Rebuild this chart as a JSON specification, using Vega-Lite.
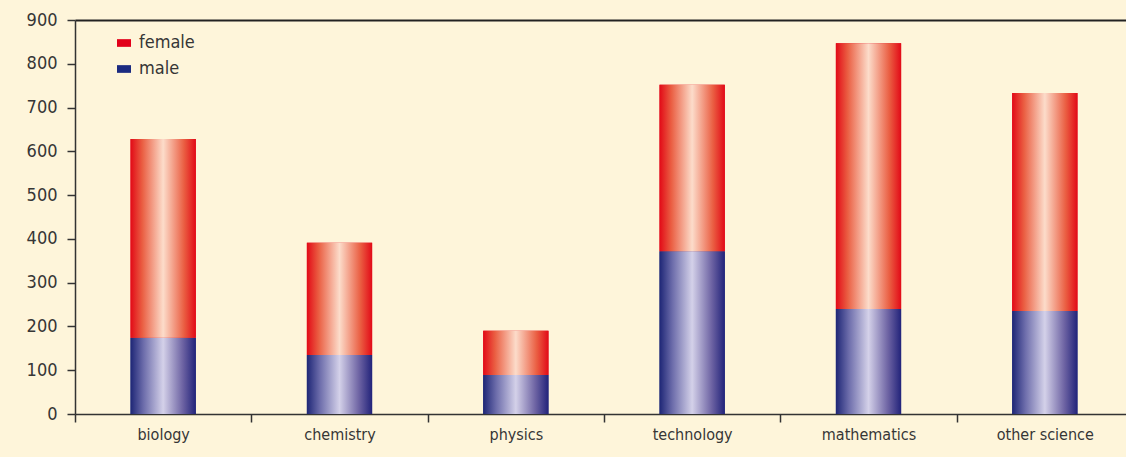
{
  "$schema": "https://vega.github.io/schema/vega-lite/v6.json",
  "autosize": "none",
  "width": 1058,
  "height": 394,
  "padding": {"left": 75, "top": 20, "right": 0, "bottom": 43},
  "background": "#fef5da",
  "config": {
    "view": {"stroke": null},
    "font": "DejaVu Sans Condensed, sans-serif",
    "axis": {"domainColor": "#333333", "domainWidth": 1.5, "tickColor": "#333333", "tickWidth": 1.5, "labelColor": "#363636", "labelFont": "DejaVu Sans Condensed, sans-serif"}
  },
  "data": {
    "values": [
      {"field": "biology", "sex": "male", "count": 174},
      {"field": "biology", "sex": "female", "count": 454},
      {"field": "chemistry", "sex": "male", "count": 135},
      {"field": "chemistry", "sex": "female", "count": 256},
      {"field": "physics", "sex": "male", "count": 89},
      {"field": "physics", "sex": "female", "count": 101},
      {"field": "technology", "sex": "male", "count": 372},
      {"field": "technology", "sex": "female", "count": 380},
      {"field": "mathematics", "sex": "male", "count": 240},
      {"field": "mathematics", "sex": "female", "count": 607},
      {"field": "other science", "sex": "male", "count": 235},
      {"field": "other science", "sex": "female", "count": 498}
    ]
  },
  "encoding": {
    "x": {
      "field": "field", "type": "nominal", "sort": null,
      "scale": {"paddingInner": 0, "paddingOuter": 0},
      "axis": {"title": null, "labelAngle": 0, "tickBand": "extent", "tickSize": 8, "labelFontSize": 16, "labelPadding": 4}
    },
    "y": {
      "field": "count", "type": "quantitative", "stack": "zero",
      "scale": {"domain": [0, 900], "nice": false},
      "axis": {"title": null, "values": [0,100,200,300,400,500,600,700,800,900], "tickSize": 8, "labelFontSize": 18, "labelPadding": 10, "grid": true, "gridColor": "#222222", "gridWidth": 2, "gridOpacity": {"expr": "datum.value == 900 ? 1 : 0"}}
    },
    "order": {"field": "sex", "sort": "descending"}
  },
  "layer": [
    {
      "mark": {"type": "bar", "width": {"band": 0.37}},
      "encoding": {
        "color": {
          "field": "sex", "type": "nominal",
          "scale": {"domain": ["female", "male"], "range": ["#e2001a", "#1b2a80"]},
          "legend": {
            "title": null, "orient": "none", "legendX": 40, "legendY": 14,
            "symbolType": "M-1,-0.55L1,-0.55L1,0.55L-1,0.55Z", "symbolSize": 196,
            "symbolStrokeWidth": 0, "labelFontSize": 18, "labelColor": "#363636",
            "rowPadding": 8, "labelOffset": 6,
            "labelFont": "DejaVu Sans Condensed, sans-serif"
          }
        }
      }
    },
    {
      "mark": {"type": "bar", "width": {"band": 0.37}},
      "encoding": {
        "detail": {"field": "sex", "type": "nominal"},
        "fill": {
          "condition": {
            "test": "datum.sex === 'female'",
            "value": {"gradient": "linear", "x1": 0, "x2": 1, "y1": 0, "y2": 0, "stops": [
              {"offset": 0, "color": "#e20a17"},
              {"offset": 0.18, "color": "#ea5e42"},
              {"offset": 0.5, "color": "#fcdcca"},
              {"offset": 0.82, "color": "#ea5e42"},
              {"offset": 1, "color": "#e20a17"}
            ]}
          },
          "value": {"gradient": "linear", "x1": 0, "x2": 1, "y1": 0, "y2": 0, "stops": [
            {"offset": 0, "color": "#1e2676"},
            {"offset": 0.2, "color": "#6d6dab"},
            {"offset": 0.5, "color": "#d4d1e9"},
            {"offset": 0.8, "color": "#6d63a3"},
            {"offset": 1, "color": "#22237a"}
          ]}
        }
      }
    }
  ]
}
